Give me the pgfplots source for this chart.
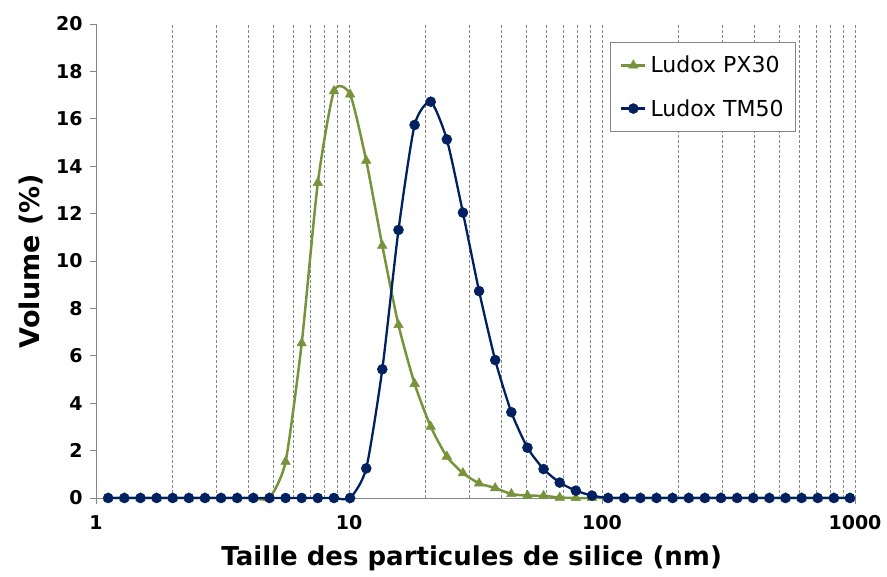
\documentclass[border=0pt]{standalone}
\usepackage{fontspec}
\setmainfont{DejaVu Sans}
\usepackage{pgfplots}
\usepackage{pgfplotstable}
\pgfplotsset{compat=1.18}

\definecolor{pxgreen}{RGB}{119,147,60}
\definecolor{tmblue}{RGB}{0,32,96}
\definecolor{axgray}{RGB}{134,134,134}

% size (nm) / volume (%)
\pgfplotstableread{
x y
1.117 0
1.294 0
1.499 0
1.736 0
2.01 0
2.328 0
2.696 0
3.122 0
3.615 0
4.187 0
4.849 0
5.615 1.53
6.503 6.53
7.531 13.3
8.721 17.17
10.1 17.03
11.7 14.23
13.54 10.65
15.69 7.3
18.17 4.82
21.04 3.01
24.36 1.75
28.21 1.05
32.67 0.62
37.84 0.42
43.82 0.17
50.75 0.1
58.77 0.09
68.06 0.02
78.82 0
91.28 0
105.7 0
122.4 0
141.8 0
164.2 0
190.1 0
220.2 0
255 0
295.3 0
342 0
396.1 0
458.7 0
531.2 0
615.1 0
712.4 0
825 0
955.4 0
}\pxthirty

\pgfplotstableread{
x y
1.117 0
1.294 0
1.499 0
1.736 0
2.01 0
2.328 0
2.696 0
3.122 0
3.615 0
4.187 0
4.849 0
5.615 0
6.503 0
7.531 0
8.721 0
10.1 0
11.7 1.25
13.54 5.43
15.69 11.31
18.17 15.74
21.04 16.72
24.36 15.13
28.21 12.04
32.67 8.73
37.84 5.82
43.82 3.62
50.75 2.12
58.77 1.22
68.06 0.65
78.82 0.31
91.28 0.1
105.7 0
122.4 0
141.8 0
164.2 0
190.1 0
220.2 0
255 0
295.3 0
342 0
396.1 0
458.7 0
531.2 0
615.1 0
712.4 0
825 0
955.4 0
}\tmfifty

\begin{document}
\begin{tikzpicture}
\begin{axis}[
  scale only axis,
  width=759pt, height=474pt,
  xmode=log,
  xmin=1, xmax=1000,
  ymin=0, ymax=20,
  ytick={0,2,...,20},
  xtick={1,10,100,1000},
  xticklabels={1,10,100,1000},
  minor xtick={2,3,4,5,6,7,8,9,20,30,40,50,60,70,80,90,200,300,400,500,600,700,800,900},
  axis lines*=left,
  axis line style={axgray, line width=0.8pt},
  xmajorgrids, xminorgrids,
  major grid style={axgray, densely dashed, line width=0.5pt},
  minor grid style={axgray, densely dashed, line width=0.5pt},
  tick style={axgray, line width=0.8pt},
  tick align=outside,
  major tick length=6pt,
  minor tick length=0pt,
  /pgf/number format/assume math mode=true,
  ticklabel style={font=\fontsize{19}{23}\selectfont\bfseries},
  xticklabel style={yshift=-8pt},
  yticklabel style={xshift=-4pt},
  xlabel={Taille des particules de silice (nm)},
  ylabel={Volume (\%)},
  xlabel style={font=\fontsize{26}{30}\selectfont\bfseries, at={(axis description cs:0.495,-0.127)}, anchor=center},
  ylabel style={font=\fontsize{27}{30}\selectfont\bfseries, at={(axis description cs:-0.086,0.5)}, anchor=center},
  legend style={at={(axis description cs:0.677,0.962)}, anchor=north west,
    draw=axgray, fill=white, line width=0.5pt,
    font=\fontsize{22}{26}\selectfont,
    inner xsep=10pt, inner ysep=12pt, row sep=21pt},
  legend cell align=left,
  legend image code/.code={%
    \draw[#1, mark=none] (0pt,0pt) -- (24pt,0pt);
    \draw[#1, only marks] plot coordinates {(12pt,0pt)};},
  clip=false,
]
\addplot[pxgreen, line width=2.5pt, smooth, tension=0.38, mark=triangle*, mark size=5.5pt, mark options={solid, fill=pxgreen, line width=0.5pt}] table[x=x, y=y] {\pxthirty};
\addlegendentry{\hspace{2pt}Ludox PX30\hspace{10pt}}
\addplot[tmblue, line width=2.3pt, smooth, tension=0.38, mark=*, mark size=5pt, mark options={solid, fill=tmblue, line width=0.5pt}] table[x=x, y=y] {\tmfifty};
\addlegendentry{\hspace{2pt}Ludox TM50\hspace{10pt}}
\end{axis}
\pgfresetboundingbox
\path[use as bounding box] (-96pt,-79pt) rectangle (791pt,498pt);
\end{tikzpicture}
\end{document}
